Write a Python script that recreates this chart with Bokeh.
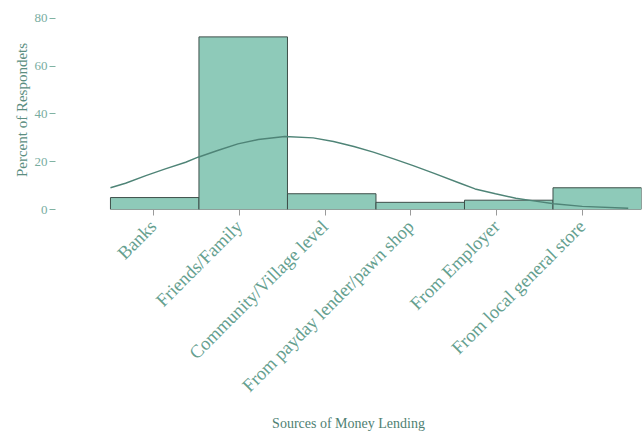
import math
from bokeh.plotting import figure
from bokeh.models import Range1d, FixedTicker
from bokeh.embed import file_html
from bokeh.resources import INLINE

# ---- data ----
categories = ["Banks", "Friends/Family", "Community/Village level",
              "From payday lender/pawn shop", "From Employer", "From local general store"]
percents = [5.0, 72.3, 6.6, 3.0, 3.9, 9.1]

# smooth density-like curve (x in bar units, y in percent)
curve_x = [0.0, 0.17, 0.40, 0.62, 0.85, 0.99, 1.21, 1.44, 1.67, 1.97, 2.29,
           2.52, 2.75, 2.97, 3.20, 3.42, 3.65, 3.95, 4.12, 4.35, 4.58, 4.80,
           5.01, 5.33, 5.85]
curve_y = [9.1, 11.0, 14.2, 17.0, 19.8, 21.9, 24.7, 27.5, 29.3, 30.6, 30.0,
           28.5, 26.4, 24.0, 21.2, 18.4, 15.2, 11.0, 8.6, 6.6, 4.7, 3.5,
           2.4, 1.3, 0.5]

y_ticks = [0, 20, 40, 60, 80]

FONT = "Liberation Serif"

left_edges = list(range(len(categories)))
right_edges = [i + 1 for i in left_edges]
# tick positions (slightly compressed relative to bar centres, as in the original)
tick_pos = [0.486 + 0.969 * i for i in range(len(categories))]

p = figure(width=642, height=434, output_backend="svg", toolbar_location=None,
           x_range=Range1d(-0.621, 6.0), y_range=Range1d(0, 83.35),
           min_border_left=55, min_border_right=1, min_border_top=10,
           min_border_bottom=225)

p.quad(left=left_edges, right=right_edges, bottom=0, top=percents,
       fill_color="#8ecab9", line_color="#3e4f4a", line_width=1)
p.line(curve_x, curve_y, line_color="#4f8477", line_width=1.4)

p.outline_line_color = None
p.grid.grid_line_color = None
p.background_fill_color = "white"

# y axis
ya = p.yaxis[0]
ya.ticker = FixedTicker(ticks=y_ticks)
ya.axis_line_color = None
ya.major_tick_line_color = "#7fb3a4"
ya.major_tick_out = 6
ya.major_tick_in = 0
ya.minor_tick_line_color = None
ya.major_label_text_font = FONT
ya.major_label_text_font_size = "13px"
ya.major_label_text_color = "#78ad9f"
ya.major_label_standoff = 2
ya.axis_label = "Percent of Respondets"
ya.axis_label_text_font = FONT
ya.axis_label_text_font_style = "normal"
ya.axis_label_text_font_size = "15px"
ya.axis_label_text_color = "#5b8e81"
ya.axis_label_standoff = 2

# x axis
xa = p.xaxis[0]
xa.ticker = FixedTicker(ticks=tick_pos)
xa.major_label_overrides = {t: c for t, c in zip(tick_pos, categories)}
xa.axis_line_color = None
xa.major_tick_line_color = "#9a9a9a"
xa.major_tick_out = 6
xa.major_tick_in = 0
xa.minor_tick_line_color = None
xa.major_label_orientation = math.pi / 4
xa.major_label_text_font = FONT
xa.major_label_text_font_size = "18.5px"
xa.major_label_text_color = "#65a08f"
xa.major_label_standoff = 8
xa.axis_label = "Sources of Money Lending"
xa.axis_label_text_font = FONT
xa.axis_label_text_font_style = "normal"
xa.axis_label_text_font_size = "14px"
xa.axis_label_text_color = "#4f7f73"
xa.axis_label_standoff = 10

open("out.html", "w").write(file_html(p, INLINE))
